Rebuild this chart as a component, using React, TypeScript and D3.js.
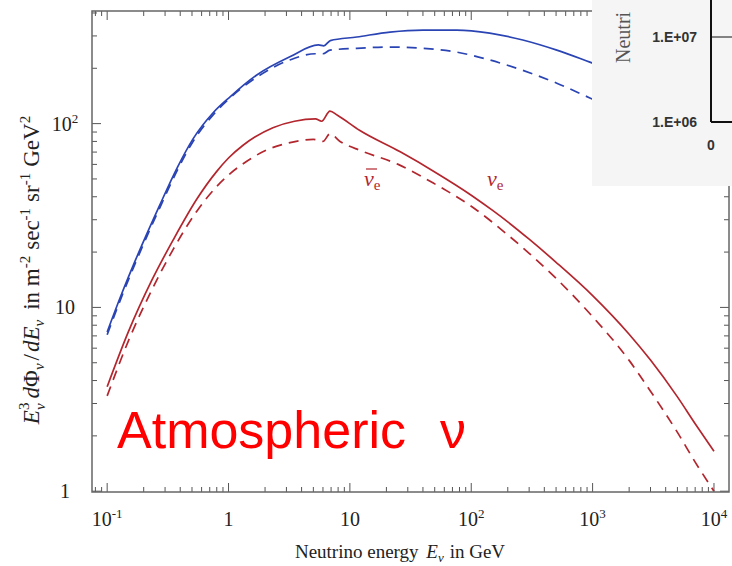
import React from 'react';
import * as d3 from 'd3';

const W = 732;
const H = 566;
const M = { left: 92, right: 3, top: 11, bottom: 74 };

const BLUE = '#2a44b4';
const RED = '#b3262e';

// muon neutrinos (blue): E^3 dPhi/dE
const numuE = [0.1, 0.13, 0.17, 0.27, 0.38, 0.51, 0.75, 1.03, 1.71, 3.2, 5.5, 6.1, 6.9, 11.4, 21.4, 40, 76, 142, 266, 507, 949, 1300];
const numuV = [7.35, 11.6, 17.9, 35.8, 58, 82.6, 115, 140, 184, 231, 268, 265, 283, 296, 315, 323, 323, 311, 285, 251, 216, 200];
const numubarE = [0.1, 0.13, 0.17, 0.27, 0.38, 0.51, 0.75, 1.03, 1.71, 3.2, 5.2, 6.0, 6.85, 11.4, 21.4, 40, 76, 142, 266, 507, 949, 1300];
const numubarV = [7.1, 11.2, 17.3, 34.6, 56, 80, 112, 138, 179, 222, 240, 240, 251, 257, 261, 257, 245, 222, 195, 166, 138, 126];

// electron neutrinos (red)
const nueE = [0.1, 0.15, 0.234, 0.35, 0.55, 0.8, 1.0, 1.31, 2.32, 3.5, 5.2, 5.85, 6.85, 7.9, 12, 26, 50, 100, 150, 200, 300, 500, 1000, 2000, 3000, 5000, 7000, 10000];
const nueV = [3.7, 7.4, 14.1, 23.3, 39, 55, 65, 76, 95, 103, 106, 103, 117, 111, 92, 70.2, 54.6, 40.8, 33.7, 29.2, 23.5, 17.6, 11.6, 7.15, 5.17, 3.26, 2.33, 1.65];
const nuebarE = [0.1, 0.15, 0.234, 0.35, 0.55, 0.8, 1.0, 1.5, 2.07, 3.0, 5.0, 6.0, 6.85, 8.3, 12.5, 25, 50, 100, 200, 300, 500, 1000, 2000, 3000, 5000, 7000, 10000];
const nuebarV = [3.3, 6.6, 12.5, 20.7, 33.5, 45.5, 52.5, 64, 72, 78, 82, 80, 88, 80, 71, 60, 47, 35.5, 24.8, 19.7, 14.4, 8.9, 5.15, 3.5, 2.09, 1.44, 1.0];

const xTickLabels: Array<[string, string]> = [['10', '-1'], ['1', ''], ['10', ''], ['10', '2'], ['10', '3'], ['10', '4']];
const xTickValues = [0.1, 1, 10, 100, 1000, 10000];
const yTickLabels: Array<[string, string]> = [['1', ''], ['10', ''], ['10', '2']];
const yTickValues = [1, 10, 100];

// inset (cropped chart in the corner)
const insetTickValues = [1e6, 1e7];
const insetTickLabels = ['1.E+06', '1.E+07'];

const SERIF = '"Liberation Serif", "Times New Roman", serif';
const SANS = '"Liberation Sans", Arial, sans-serif';

type Pt = { e: number; v: number };
const zip = (es: number[], vs: number[]): Pt[] => es.map((e, i) => ({ e, v: vs[i] }));

export default function App(): JSX.Element {
  const x = d3.scaleLog().domain([0.075, 13300]).range([M.left, W - M.right]);
  const y = d3.scaleLog().domain([0.99, 410]).range([H - M.bottom, M.top]);
  const x0 = M.left;
  const x1 = W - M.right;
  const y0 = H - M.bottom;
  const y1 = M.top;

  const line = d3
    .line<Pt>()
    .x((d) => x(d.e))
    .y((d) => y(d.v))
    .curve(d3.curveMonotoneX);

  const series = [
    { data: zip(numuE, numuV), color: BLUE, dash: undefined },
    { data: zip(numubarE, numubarV), color: BLUE, dash: '10 7' },
    { data: zip(nueE, nueV), color: RED, dash: undefined },
    { data: zip(nuebarE, nuebarV), color: RED, dash: '10 7' },
  ];

  const isMajor = (v: number) => Math.abs(Math.log10(v) - Math.round(Math.log10(v))) < 1e-6;
  const xTicks = x.ticks();
  const yTicks = y.ticks();

  const insetY = d3.scaleLog().domain([1e6, 1e7]).range([122, 37]);
  const insetX = d3.scaleLinear().domain([0, 1]).range([711, 800]);

  return (
    <svg width={W} height={H} style={{ position: 'fixed', left: 0, top: 0, background: '#fff' }}>
      <rect width={W} height={H} fill="#fff" />
      <defs>
        <clipPath id="plot">
          <rect x={x0} y={y1} width={x1 - x0} height={y0 - y1} />
        </clipPath>
      </defs>

      {/* ticks, pointing inward on all four sides */}
      <g stroke="#555" strokeWidth={1}>
        {xTicks.map((t, i) => {
          const len = isMajor(t) ? 9 : 5;
          return (
            <g key={`xt${i}`}>
              <line x1={x(t)} x2={x(t)} y1={y0} y2={y0 - len} />
              <line x1={x(t)} x2={x(t)} y1={y1} y2={y1 + len} />
            </g>
          );
        })}
        {yTicks.map((t, i) => {
          const len = isMajor(t) ? 9 : 5;
          return (
            <g key={`yt${i}`}>
              <line x1={x0} x2={x0 + len} y1={y(t)} y2={y(t)} />
              <line x1={x1} x2={x1 - len} y1={y(t)} y2={y(t)} />
            </g>
          );
        })}
      </g>

      <g clipPath="url(#plot)" fill="none">
        {series.map((s, i) => (
          <path key={i} d={line(s.data) || ''} stroke={s.color} strokeWidth={1.7} strokeDasharray={s.dash} />
        ))}
      </g>

      <rect x={x0} y={y1} width={x1 - x0} height={y0 - y1} fill="none" stroke="#666" strokeWidth={1.5} />

      {/* tick labels */}
      <g fontFamily={SERIF} fontSize={20} fill="#222">
        {xTickValues.map((t, i) => (
          <text key={`xl${i}`} x={x(t)} y={526} textAnchor="middle">
            {xTickLabels[i][0]}
            {xTickLabels[i][1] && (
              <tspan dy={-8} fontSize={13}>
                {xTickLabels[i][1]}
              </tspan>
            )}
          </text>
        ))}
        {yTickValues.map((t, i) => (
          <text key={`yl${i}`} x={65} y={y(t)} dy="0.35em" textAnchor="middle">
            {yTickLabels[i][0]}
            {yTickLabels[i][1] && (
              <tspan dy={-8} fontSize={13}>
                {yTickLabels[i][1]}
              </tspan>
            )}
          </text>
        ))}
      </g>

      {/* axis titles */}
      <text x={400} y={558} textAnchor="middle" fontFamily={SERIF} fontSize={19} fill="#222">
        Neutrino energy{' '}
        <tspan fontStyle="italic" dx={3}>E</tspan>
        <tspan fontStyle="italic" fontSize={13} dy={4}>ν</tspan>
        <tspan dy={-4} dx={6}>in GeV</tspan>
      </text>

      <text
        transform={`translate(39, 270) rotate(-90)`}
        textAnchor="middle"
        fontFamily={SERIF}
        fontSize={23}
        fill="#222"
      >
        <tspan fontStyle="italic">E</tspan>
        <tspan fontSize={15} dy={-10}>3</tspan>
        <tspan fontSize={15} fontStyle="italic" dx={-7.5} dy={16}>ν</tspan>
        <tspan dy={-6} dx={5} fontStyle="italic">d</tspan>
        <tspan>Φ</tspan>
        <tspan fontSize={15} fontStyle="italic" dy={5}>ν</tspan>
        <tspan dy={-5} dx={3}>/</tspan>
        <tspan fontStyle="italic" dx={2}>dE</tspan>
        <tspan fontSize={15} fontStyle="italic" dy={5}>ν</tspan>
        <tspan dy={-5} dx={10}>in m</tspan>
        <tspan fontSize={15} dy={-9}>-2</tspan>
        <tspan dy={9} dx={6}>sec</tspan>
        <tspan fontSize={15} dy={-9}>-1</tspan>
        <tspan dy={9} dx={6}>sr</tspan>
        <tspan fontSize={15} dy={-9}>-1</tspan>
        <tspan dy={9} dx={6}>GeV</tspan>
        <tspan fontSize={15} dy={-9}>2</tspan>
      </text>

      {/* curve labels */}
      <g fontFamily={SERIF} fill={RED}>
        <text x={364} y={186} fontSize={22}>
          <tspan fontStyle="italic">ν</tspan>
          <tspan fontSize={15} dy={4}>e</tspan>
        </text>
        <line x1={366} x2={377} y1={169} y2={169} stroke={RED} strokeWidth={1.2} />
        <text x={487} y={186} fontSize={22}>
          <tspan fontStyle="italic">ν</tspan>
          <tspan fontSize={15} dy={4}>e</tspan>
        </text>
      </g>

      <text x={117} y={448} fontFamily={SANS} fontSize={52} fill="#ff0000">
        Atmospheric
        <tspan dx={34}>ν</tspan>
      </text>

      {/* inset from another chart, cropped at the corner */}
      <g>
        <rect x={592} y={0} width={W - 592} height={186} fill="#f5f5f5" />
        <text
          transform="translate(630, 63) rotate(-90)"
          fontFamily={SERIF}
          fontSize={20}
          fill="#555"
        >
          Neutri
        </text>
        <g stroke="#111" strokeWidth={2}>
          <line x1={insetX(0)} x2={insetX(0)} y1={0} y2={insetY(1e6)} />
          <line x1={insetX(0)} x2={W} y1={insetY(1e6)} y2={insetY(1e6)} />
          <line x1={insetX(0)} x2={W} y1={insetY(1e7)} y2={insetY(1e7)} strokeWidth={1} />
        </g>
        <g fontFamily={SANS} fontSize={14} fontWeight="bold" fill="#333">
          {insetTickValues.map((t, i) => (
            <text key={`il${i}`} x={insetX(0) - 14} y={insetY(t)} dy="0.35em" textAnchor="end">
              {insetTickLabels[i]}
            </text>
          ))}
          <text x={insetX(0)} y={150} textAnchor="middle">
            0
          </text>
        </g>
      </g>
    </svg>
  );
}
